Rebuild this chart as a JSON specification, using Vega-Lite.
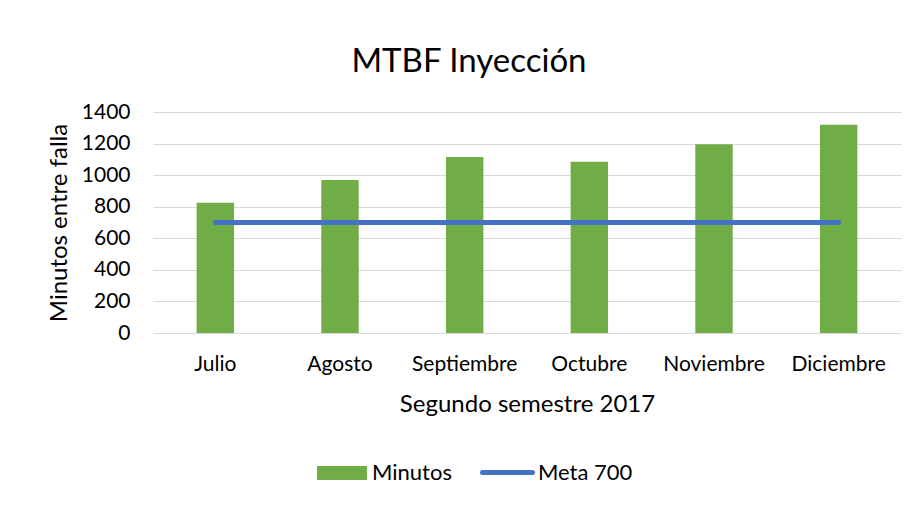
{
  "$schema": "https://vega.github.io/schema/vega-lite/v6.json",
  "width": 748,
  "height": 221,
  "autosize": {"type": "none"},
  "padding": {"left": 153, "top": 112, "right": 16, "bottom": 174},
  "background": "white",
  "config": {
    "font": "Lato",
    "view": {"stroke": null},
    "axis": {"labelColor": "#000", "titleColor": "#000", "labelFont": "Lato", "titleFont": "Lato"},
    "axisY": {
      "values": [0, 200, 400, 600, 800, 1000, 1200, 1400],
      "format": "d",
      "labelOverlap": false,
      "labelFontSize": 21,
      "titleFontSize": 24,
      "titleFontWeight": "normal",
      "domain": false,
      "ticks": false,
      "gridColor": "#D9D9D9",
      "gridWidth": 1,
      "labelPadding": 23,
      "titlePadding": 10
    },
    "legend": {"padding": 0, "labelFont": "Lato", "labelColor": "#000", "labelFontSize": 22, "labelOffset": 5}
  },
  "title": {
    "text": "MTBF Inyección",
    "fontSize": 33,
    "fontWeight": "normal",
    "font": "Lato",
    "color": "#000",
    "anchor": "middle",
    "dx": -58,
    "offset": 22
  },
  "data": {
    "values": [
      {"mes": "Julio", "minutos": 825, "meta": 700},
      {"mes": "Agosto", "minutos": 970, "meta": 700},
      {"mes": "Septiembre", "minutos": 1115, "meta": 700},
      {"mes": "Octubre", "minutos": 1085, "meta": 700},
      {"mes": "Noviembre", "minutos": 1195, "meta": 700},
      {"mes": "Diciembre", "minutos": 1320, "meta": 700}
    ]
  },
  "encoding": {
    "x": {
      "field": "mes",
      "type": "nominal",
      "sort": null,
      "scale": {"paddingInner": 0.7, "paddingOuter": 0.35},
      "axis": {
        "title": "Segundo semestre 2017",
        "labelAngle": 0,
        "labelFontSize": 21,
        "titleFontSize": 24,
        "titleFontWeight": "normal",
        "ticks": false,
        "domainColor": "#D9D9D9",
        "domainWidth": 1,
        "labelPadding": 20,
        "titlePadding": 18,
        "labelOverlap": false
      }
    }
  },
  "layer": [
    {
      "mark": {"type": "bar"},
      "encoding": {
        "y": {
          "field": "minutos",
          "type": "quantitative",
          "scale": {"domain": [0, 1400], "nice": false},
          "axis": {
            "title": "Minutos entre falla",
            "values": [0, 200, 400, 600, 800, 1000, 1200, 1400],
            "tickCount": 8
          }
        },
        "fill": {
          "datum": "Minutos",
          "type": "nominal",
          "scale": {"domain": ["Minutos"], "range": ["#70AD47"]},
          "legend": {
            "title": null,
            "orient": "none",
            "legendX": 164,
            "legendY": 336,
            "symbolType": "M-1,-0.28H1V0.28H-1Z",
            "symbolSize": 2500,
            "symbolStrokeWidth": 0,
            "symbolOpacity": 1
          }
        }
      }
    },
    {
      "mark": {"type": "line", "strokeWidth": 5, "strokeCap": "round"},
      "encoding": {
        "y": {
          "field": "meta",
          "type": "quantitative",
          "axis": {
            "title": "Minutos entre falla",
            "values": [0, 200, 400, 600, 800, 1000, 1200, 1400],
            "tickCount": 8
          }
        },
        "stroke": {
          "datum": "Meta 700",
          "type": "nominal",
          "scale": {"domain": ["Meta 700"], "range": ["#4472C4"]},
          "legend": {
            "title": null,
            "orient": "none",
            "legendX": 327,
            "legendY": 333,
            "symbolType": "stroke",
            "symbolSize": 2500,
            "symbolStrokeWidth": 5,
            "symbolOpacity": 1,
            "labelOffset": 3,
            "encode": {"symbols": {"update": {"strokeCap": {"value": "round"}}}}
          }
        }
      }
    }
  ]
}
